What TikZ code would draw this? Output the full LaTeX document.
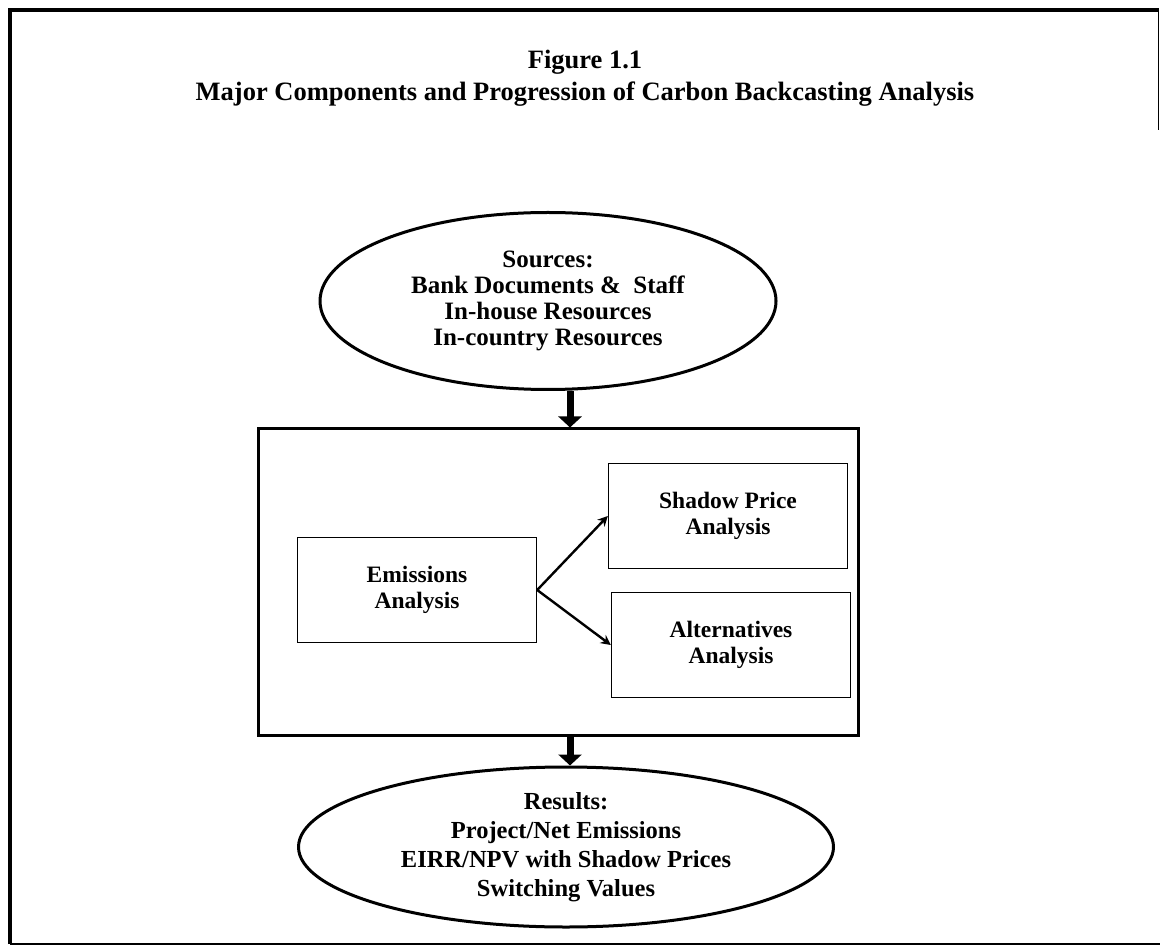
\documentclass[tikz,border=0pt]{standalone}
\usepackage{fontspec}
\setmainfont{Liberation Serif}
\usetikzlibrary{arrows.meta}
\usetikzlibrary{shapes.geometric}
\usetikzlibrary{positioning}

\begin{document}
\begin{tikzpicture}[x=0.5pt, y=-0.5pt,
    oval/.style={draw, ellipse, line width=1.5pt, inner sep=0pt, align=center,
      font=\bfseries\fontsize{12.5}{13}\selectfont},
    panel/.style={draw, line width=1.5pt, inner sep=0pt},
    cell/.style={draw, line width=0.7pt, inner sep=0pt, align=center,
      minimum width=119.5pt, minimum height=52.5pt,
      font=\bfseries\fontsize{11.75}{13}\selectfont},
    fatarrow/.style={line width=3.5pt, -{Triangle[width=11.5pt, length=5.5pt]}},
    branch/.style={line width=1.2pt, -{Stealth[width=5pt, length=5pt]}}]

    \useasboundingbox (0, 0) rectangle (1160, 945);

    % frame of the page
    \draw [line width=2pt] (10, 944) -- (10, 10) -- (1159, 10);
    \draw [line width=0.5pt] (1158, 10) -- (1158, 130);
    \draw [line width=0.6pt] (10, 944) -- (1160, 944);

    \node (title) [align=center, font=\bfseries\fontsize{13.25}{16}\selectfont]
    at (585, 78)
    {Figure 1.1\\Major Components and Progression of Carbon Backcasting Analysis};

    \node (src) [oval, minimum width=228pt, minimum height=88.5pt] at (548, 301)
    {Sources:\\Bank Documents \& \ Staff\\In-house Resources\\In-country Resources};

    \node (stage) [panel, minimum width=300pt, minimum height=153pt] at (558, 582) {};

    \node (emis) [cell] at (417, 590) {Emissions\\Analysis};
    \node (shadow) [cell] at (728, 516) {Shadow Price\\Analysis};
    \node (alt) [cell] at (731, 645) {Alternatives\\Analysis};

    \node (res) [oval, minimum width=267.5pt, minimum height=80pt,
      font=\bfseries\fontsize{12.25}{14.5}\selectfont] at (566, 847)
    {Results:\\Project/Net Emissions\\EIRR/NPV with Shadow Prices\\Switching Values};

    \coordinate (spine) at (570, 0);
    \draw [fatarrow] (spine |- src.south) -- (spine |- stage.north);
    \draw [fatarrow] (spine |- stage.south) -- (spine |- res.north);

    \draw [branch] (emis.east) -- (shadow.west);
    \draw [branch] (emis.east) -- (alt.west);

  \end{tikzpicture}
\end{document}
